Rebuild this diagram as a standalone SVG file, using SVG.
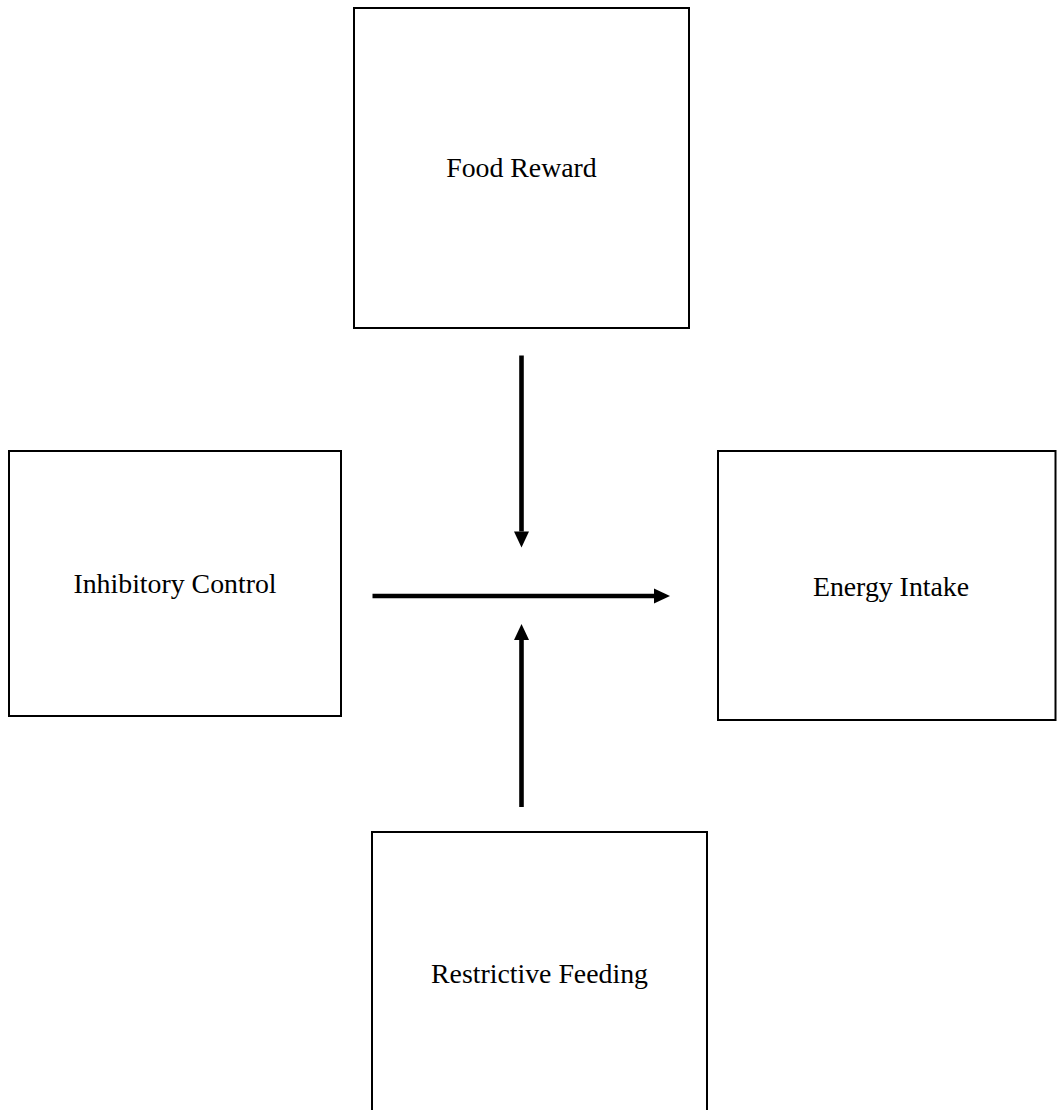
<svg xmlns="http://www.w3.org/2000/svg" width="1057" height="1110" viewBox="0 0 1057 1110">
  <style>
    .box { fill: #ffffff; stroke: #000000; stroke-width: 2; }
    .label { font-family: "Liberation Serif", "Times New Roman", serif; font-size: 27.8px; fill: #000000; text-anchor: middle; }
    .conn { stroke: #000000; stroke-width: 4.6; fill: none; }
  </style>
  <defs>
    <marker id="head" markerUnits="userSpaceOnUse" markerWidth="16" markerHeight="15" refX="0" refY="7.5" orient="auto" overflow="visible">
      <path d="M0,0 L16,7.5 L0,15 Z" fill="#000000"/>
    </marker>
  </defs>
  <rect width="1057" height="1110" fill="#ffffff"/>

  <g id="food-reward">
    <rect class="box" x="354" y="8" width="335" height="320"/>
    <text class="label" x="521.5" y="177">Food Reward</text>
  </g>

  <g id="inhibitory-control">
    <rect class="box" x="9" y="451" width="332" height="265"/>
    <text class="label" x="175" y="593">Inhibitory Control</text>
  </g>

  <g id="energy-intake">
    <rect class="box" x="718" y="451" width="337.5" height="269"/>
    <text class="label" x="891" y="595.5">Energy Intake</text>
  </g>

  <g id="restrictive-feeding">
    <rect class="box" x="372" y="832" width="335" height="290"/>
    <text class="label" x="539.5" y="983">Restrictive Feeding</text>
  </g>

  <g id="connectors">
    <line class="conn" x1="521.5" y1="355.5" x2="521.5" y2="531.5" marker-end="url(#head)"/>
    <line class="conn" x1="372.5" y1="596" x2="654" y2="596" marker-end="url(#head)"/>
    <line class="conn" x1="521.5" y1="807" x2="521.5" y2="640" marker-end="url(#head)"/>
  </g>
</svg>
